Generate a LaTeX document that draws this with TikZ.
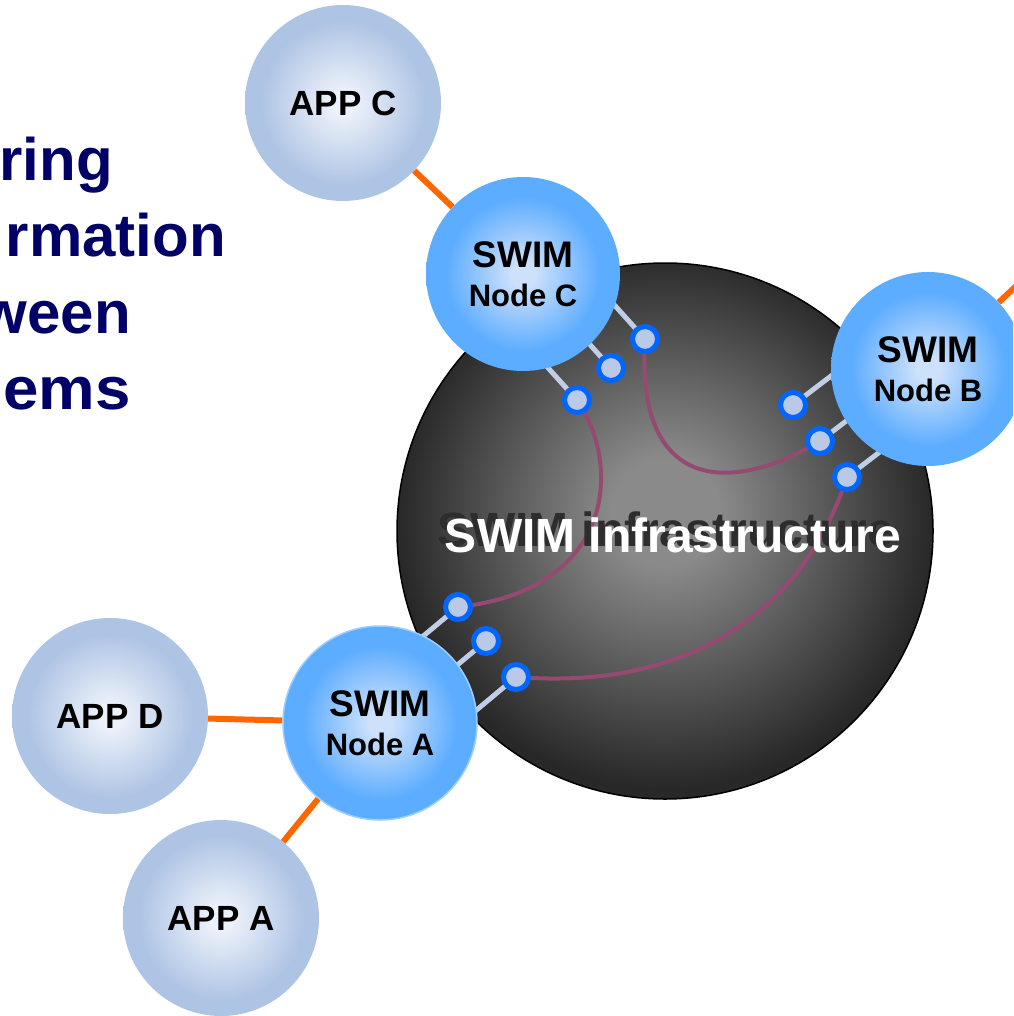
\documentclass[tikz,border=0pt]{standalone}
\usepackage{fontspec}
\setmainfont{Liberation Sans}
\definecolor{navy}{RGB}{0,0,102}
\definecolor{apin}{RGB}{236,241,250}
\definecolor{apout}{RGB}{174,196,228}
\definecolor{swin}{RGB}{205,225,250}
\definecolor{swout}{RGB}{92,172,255}
\definecolor{sphin}{RGB}{138,138,138}
\definecolor{sphout}{RGB}{40,40,40}
\definecolor{portring}{RGB}{0,102,255}
\definecolor{portfill}{RGB}{186,202,230}
\definecolor{stubc}{RGB}{192,206,230}
\definecolor{linkc}{RGB}{150,74,114}
\definecolor{orangec}{RGB}{255,102,0}
\definecolor{shadowc}{RGB}{45,45,45}
\definecolor{rimc}{RGB}{156,206,255}
\pgfdeclareradialshading{appshade}{\pgfpoint{0bp}{0bp}}{color(0bp)=(apin); color(3bp)=(apin); color(21bp)=(apout); color(50bp)=(apout)}
\pgfdeclareradialshading{swimshade}{\pgfpoint{0bp}{0bp}}{color(0bp)=(swin); color(3bp)=(swin); color(20bp)=(swout); color(50bp)=(swout)}
\pgfdeclareradialshading{sphshade}{\pgfpoint{0bp}{2bp}}{color(0bp)=(sphin); color(5bp)=(sphin); color(25bp)=(sphout); color(50bp)=(sphout)}
\pgfdeclarelayer{back}
\pgfdeclarelayer{mid}
\pgfsetlayers{back,mid,main}
\begin{document}
\begin{tikzpicture}[x=1pt,y=-1pt,
  app/.style={circle,minimum size=196pt,inner sep=0pt,shading=appshade,font=\fontsize{35}{40}\selectfont\bfseries},
  swim/.style={circle,minimum size=194pt,inner sep=0pt,shading=swimshade,align=center,font=\fontsize{31}{39}\selectfont\bfseries},
  sphere/.style={circle,minimum size=536pt,inner sep=0pt,draw=black,line width=1.5pt,shading=sphshade},
  port/.style={circle,minimum size=25pt,inner sep=0pt,draw=portring,line width=5pt,fill=portfill},
  stub/.style={draw=stubc,line width=5pt},
  link/.style={draw=linkc,line width=4pt},
  feed/.style={draw=orangec,line width=6pt},
  title/.style={anchor=base east,text=navy,font=\fontsize{60}{60}\selectfont\bfseries,inner sep=0pt},
  infratext/.style={anchor=base,font=\fontsize{48}{48}\selectfont\bfseries,inner sep=0pt}
]
\useasboundingbox (0,0) rectangle (1013,1016);
\clip (0,0) rectangle (1013,1016);

\begin{pgfonlayer}{back}
\node[sphere] (sph) at (665,531) {};
\end{pgfonlayer}

% title fragments
\node[title] (t1) at (113,181) {ring};
\node[title] (t2) at (226,256) {rmation};
\node[title] (t3) at (131,333) {ween};
\node[title,xscale=1.06] (t4) at (131,409) {ems};

% applications
\node[app] (appc) at (343,103) {APP C};
\node[app] (appd) at (110,716) {APP D};
\node[app] (appa) at (221,918) {APP A};
\coordinate (appb) at (1100,207);

% SWIM nodes
\node[swim] (nodec) at (523,274) {{\fontsize{37}{39}\selectfont SWIM}\\Node C};
\node[swim] (nodeb) at (928,369) {{\fontsize{37}{39}\selectfont SWIM}\\Node B};
\node[swim,draw=rimc,line width=1.5pt] (nodea) at (380,723) {{\fontsize{37}{39}\selectfont SWIM}\\Node A};

% infrastructure label
\node[infratext,text=shadowc] (infrashadow) at (666,546) {SWIM infrastructure};
\node[infratext,text=white] (infralabel) at (673,552) {SWIM infrastructure};

% ports
\node[port] (pc1) at (577,400) {};
\node[port] (pc2) at (611,368) {};
\node[port] (pc3) at (645,339) {};
\node[port] (pb1) at (793,405) {};
\node[port] (pb2) at (820,441) {};
\node[port] (pb3) at (847,477) {};
\node[port] (pa1) at (458,607) {};
\node[port] (pa2) at (486,641) {};
\node[port] (pa3) at (516,677) {};

% stub ends inside the SWIM nodes
\coordinate (sc1) at (532,350);
\coordinate (sc2) at (566,318);
\coordinate (sc3) at (600,289);
\coordinate (sb1) at (848,363);
\coordinate (sb2) at (875,399);
\coordinate (sb3) at (902,435);
\coordinate (sa1) at (403,653);
\coordinate (sa2) at (431,687);
\coordinate (sa3) at (461,723);

\begin{pgfonlayer}{mid}
\draw[feed] (appc) -- (nodec);
\draw[feed] (appd) -- (nodea);
\draw[feed] (appa) -- (nodea);
\draw[feed] (nodeb) -- (appb);
\draw[stub] (pc1.center) -- (sc1);
\draw[stub] (pc2.center) -- (sc2);
\draw[stub] (pc3.center) -- (sc3);
\draw[stub] (pb1.center) -- (sb1);
\draw[stub] (pb2.center) -- (sb2);
\draw[stub] (pb3.center) -- (sb3);
\draw[stub] (pa1.center) -- (sa1);
\draw[stub] (pa2.center) -- (sa2);
\draw[stub] (pa3.center) -- (sa3);
\draw[link] (pc1.center) .. controls (622,465) and (615,590) .. (pa1.center);
\draw[link] (pc3.center) .. controls (635,500) and (740,490) .. (pb2.center);
\draw[link] (pb3.center) .. controls (800,620) and (680,690) .. (pa3.center);
\end{pgfonlayer}
\end{tikzpicture}
\end{document}
